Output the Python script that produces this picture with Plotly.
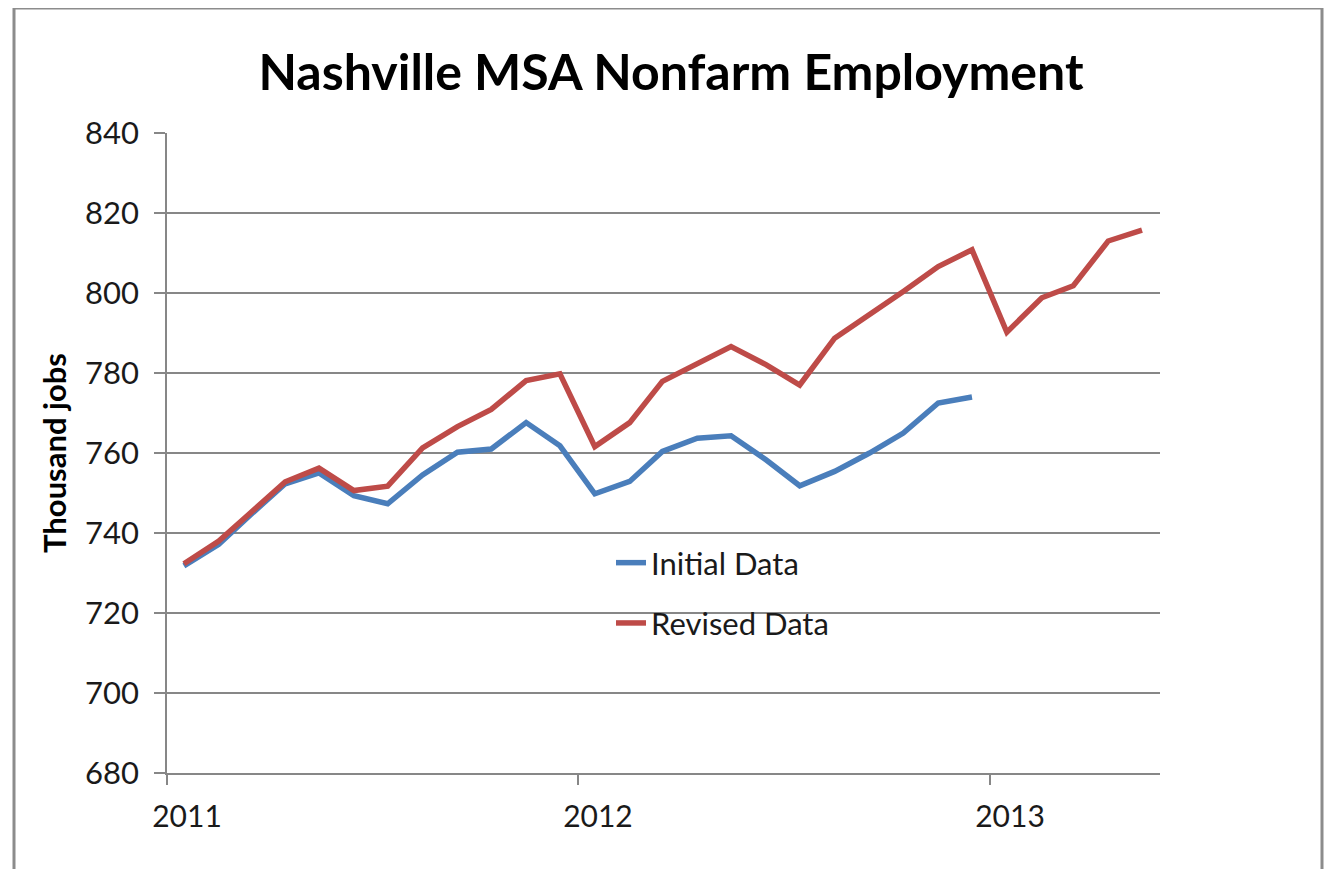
import plotly.graph_objects as go

dates_initial = [
    "2011-01-16", "2011-02-16", "2011-03-16", "2011-04-16", "2011-05-16", "2011-06-16",
    "2011-07-16", "2011-08-16", "2011-09-16", "2011-10-16", "2011-11-16", "2011-12-16",
    "2012-01-16", "2012-02-16", "2012-03-16", "2012-04-16", "2012-05-16", "2012-06-16",
    "2012-07-16", "2012-08-16", "2012-09-16", "2012-10-16", "2012-11-16", "2012-12-16",
]
dates_revised = dates_initial + [
    "2013-01-16", "2013-02-16", "2013-03-16", "2013-04-16", "2013-05-16",
]
initial_data = [
    731.8, 737.2, 744.5, 752.3, 755.0, 749.3, 747.3, 754.5, 760.2, 761.0, 767.6, 761.8,
    749.8, 752.9, 760.4, 763.7, 764.3, 758.3, 751.8, 755.4, 760.0, 765.0, 772.5, 774.0,
]
revised_data = [
    732.3, 738.0, 745.0, 752.8, 756.2, 750.6, 751.7, 761.3, 766.6, 770.9, 778.1, 779.8,
    761.6, 767.6, 777.9, 782.5, 786.6, 782.1, 777.0, 788.7, 794.5, 800.4, 806.6, 810.8,
    790.2, 798.8, 801.8, 813.0, 815.7,
]
year_ticks = ["2011-01-01", "2012-01-01", "2013-01-01"]
year_labels = ["2011", "2012", "2013"]
y_ticks = [680, 700, 720, 740, 760, 780, 800, 820, 840]

FONT = "Lato"
GRID = "#878787"
OFF = 8  # page body margin

fig = go.Figure()
fig.add_trace(go.Scatter(
    x=dates_initial, y=initial_data, mode="lines", name="Initial Data",
    line=dict(color="#4A7EBB", width=5.5), legendgroup="a",
))
fig.add_trace(go.Scatter(
    x=dates_revised, y=revised_data, mode="lines", name="Revised Data",
    line=dict(color="#BE4B48", width=5.5), legendgroup="b",
))

W, H = 1334 - OFF, 869 - OFF
L, T, PW, PH = 167 - OFF, 133 - OFF, 993, 640

fig.update_layout(
    width=W, height=H,
    margin=dict(l=L, r=W - L - PW, t=T, b=H - T - PH),
    paper_bgcolor="white", plot_bgcolor="white",
    font=dict(family=FONT, color="#1a1a1a"),
    title=dict(
        text="<b>Nashville MSA Nonfarm Employment</b>",
        x=(671 - OFF) / W, xanchor="center", y=1 - (72 - OFF) / H, yanchor="middle",
        font=dict(size=50, color="black", family=FONT),
    ),
    showlegend=True,
    legend=dict(
        x=(611 - 167) / PW, xanchor="left",
        y=(773 - 536) / PH, yanchor="top",
        bgcolor="rgba(0,0,0,0)",
        font=dict(size=31, family=FONT, color="#1a1a1a"),
        tracegroupgap=17, traceorder="grouped",
    ),
    xaxis=dict(
        type="date", range=["2011-01-01", "2013-06-01"],
        tickvals=year_ticks, ticktext=year_labels,
        ticks="outside", ticklen=10, tickcolor=GRID, tickwidth=1.5,
        showgrid=False, showline=True, linecolor=GRID, linewidth=2,
        tickfont=dict(size=30, family=FONT, color="#1a1a1a"),
        ticklabelshift=20, ticklabelstandoff=6,
        zeroline=False,
    ),
    yaxis=dict(
        range=[680, 840], tickvals=y_ticks,
        ticks="outside", ticklen=11, tickcolor=GRID, tickwidth=1.5,
        showgrid=True, gridcolor=GRID, gridwidth=1.5,
        showline=True, linecolor=GRID, linewidth=1.5,
        tickfont=dict(size=31, family=FONT, color="#1a1a1a"),
        ticklabelstandoff=9,
        zeroline=False,
        title=dict(text="<b>Thousand jobs</b>", font=dict(size=31, family=FONT, color="black"), standoff=9),
    ),
    shapes=[dict(
        type="rect", xref="paper", yref="paper",
        x0=-(167 - 14) / PW, x1=(1322 - 167) / PW,
        y0=-(869 - 773 + 20) / PH, y1=(773 - 8) / PH,
        line=dict(color="#8c8c8c", width=3), fillcolor="rgba(0,0,0,0)", layer="below",
    )],
)

fig.write_html("out.html")
